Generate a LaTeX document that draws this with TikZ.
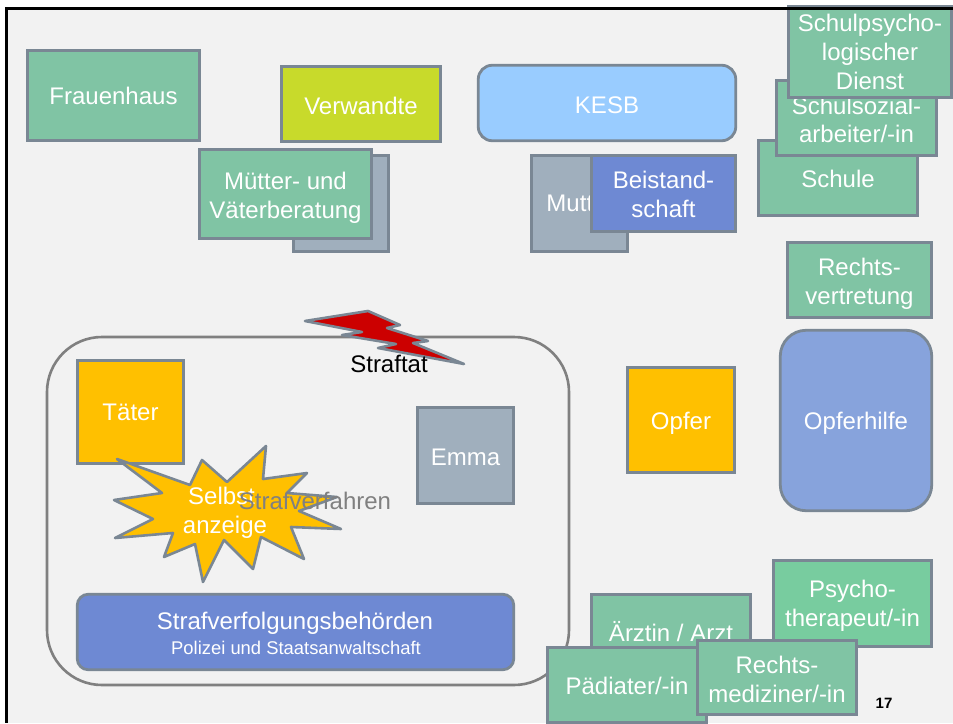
\documentclass[tikz,border=0pt]{standalone}
\usepackage{fontspec}
\setmainfont{Liberation Sans}
\definecolor{edgegray}{HTML}{7A8794}
\definecolor{teal1}{HTML}{80C4A4}
\definecolor{teal2}{HTML}{78CC9F}
\definecolor{slate1}{HTML}{A0AFBD}
\definecolor{amber1}{HTML}{FFC000}
\definecolor{blue1}{HTML}{6E89D3}
\definecolor{blue2}{HTML}{87A3DC}
\definecolor{sky1}{HTML}{99CCFF}
\definecolor{lime1}{HTML}{C8DA2B}
\definecolor{bg1}{HTML}{F2F2F2}
\definecolor{red1}{HTML}{CC0000}
\definecolor{gray1}{HTML}{808080}
\tikzset{
  x=1pt,y=-1pt,
  lbl/.style={font=\fontsize{24}{28.6}\selectfont,align=center,inner sep=0pt,outer sep=0pt},
  txt/.style={lbl,text=white,label distance=0pt},
  box/.style={draw=edgegray,line width=2.8pt,inner sep=0pt,outer sep=0pt,line join=miter},
  green/.style={box,fill=teal1},
  slate/.style={box,fill=slate1},
  amber/.style={box,fill=amber1},
  blue/.style={box,fill=blue1},
  spiky/.style={draw=edgegray,line width=2.6pt,line join=round},
}
\begin{document}
\begin{tikzpicture}
\useasboundingbox (0,0) rectangle (953,723);
\fill[white] (0,0) rectangle (953,723);
\fill[bg1] (6.5,8) rectangle (953,723);
% big frame
\draw[gray1,line width=2.6pt,rounded corners=55pt] (47,337) rectangle (569,685);
% top row
\node[green,minimum width=172.5,minimum height=90.5,label={[txt]center:Frauenhaus}] (frauen) at (113.5,95.5) {};
\node[box,fill=lime1,minimum width=159.5,minimum height=75.5,label={[txt,yshift=-2]center:Verwandte}] (verw) at (361,104) {};
\node[box,fill=sky1,rounded corners=14pt,minimum width=257.5,minimum height=75.5,label={[txt,yshift=-2]center:KESB}] (kesb) at (607,103) {};
\node[slate,minimum width=95.5,minimum height=96.5] (vater) at (341,203.5) {};
\node[green,minimum width=172.5,minimum height=89.5,label={[txt,yshift=-3.5]center:Mütter- und\\Väterberatung}] (muetter) at (285.5,194) {};
\node[slate,minimum width=96.5,minimum height=96.5,label={[txt,xshift=1]center:Mutter}] (mutter) at (579.5,203.5) {};
\node[blue,minimum width=144.5,minimum height=76.5,label={[txt,yshift=-1]center:Beistand-\\schaft}] (beistand) at (663.5,193.5) {};
\node[green,minimum width=159.5,minimum height=75.5,label={[txt,yshift=-1]center:Schule}] (schule) at (838,178) {};
\node[green,minimum width=160.5,minimum height=75.5,label={[txt,yshift=-2]center:Schulsozial-\\arbeiter/-in}] (sozial) at (856.5,118) {};
\node[green,minimum width=163.5,minimum height=91.5,label={[txt]center:Schulpsycho-\\logischer\\Dienst}] (psych) at (870,52) {};
\node[green,minimum width=144.5,minimum height=75.5,label={[txt,yshift=-4]center:Rechts-\\vertretung}] (recht) at (859.5,280) {};
% middle
\node[box,fill=blue2,rounded corners=26pt,minimum width=151.5,minimum height=180.5,label={[txt,yshift=-3]center:Opferhilfe}] (ohilfe) at (856,420.5) {};
\node[amber,minimum width=107.5,minimum height=105.5,label={[txt,yshift=-3]center:Opfer}] (opfer) at (681,420) {};
\node[amber,minimum width=106.5,minimum height=103.5,label={[txt]center:Täter}] (taeter) at (130.5,412) {};
\node[slate,minimum width=96.5,minimum height=96.5,label={[txt,yshift=-2]center:Emma}] (emma) at (465.5,455.5) {};
% burst
\draw[spiky,fill=amber1]
 (117,459)--(190,485)--(202,460)--(227,482)--(266,446)--(263,479)--(307,473)--(287,493)--(337,497)--(299,511)--(341,529)--(291,527)--(304,559)--(261,537)--(253,569)--(224,540)--(203,582)--(195,544)--(164,557)--(173,533)--(115,538)--(153,519)--(114,500)--(162,493)--cycle;
\node[lbl,text=white] (selbst) at (225,513) {Selbst\rule{7pt}{0pt}\\anzeige};
\node[lbl,text=gray1] (verfahren) at (315,501) {Strafverfahren};
% lightning
\draw[spiky,fill=red1]
 (305,321)--(368,311)--(400,325)--(387,328)--(428,341)--(413,343)--(464,364)--(378,348)--(396,344)--(342,335)--(362,332)--cycle;
\node[lbl,text=black] (straftat) at (389,364) {Straftat};
% Strafverfolgung
\node[blue,rounded corners=11pt,minimum width=436.5,minimum height=75.5] (behoerden) at (295.5,632) {};
\node[lbl,text=white] (behtitel) at (295,623) {Strafverfolgungsbehörden};
\node[lbl,text=white,font=\fontsize{18.4}{21}\selectfont] (behsub) at (296,648) {Polizei und Staatsanwaltschaft};
% bottom right
\node[box,fill=teal2,minimum width=158.5,minimum height=86.5,label={[txt,yshift=-2.5]center:Psycho-\\therapeut/-in}] (psycho) at (852.5,603.5) {};
\node[green,minimum width=159.5,minimum height=75.5,label={[txt]center:Ärztin / Arzt}] (arzt) at (671,632) {};
\node[green,minimum width=159.5,minimum height=75.5,label={[txt,yshift=-1]center:Pädiater/-in}] (paed) at (627,685) {};
\node[green,minimum width=159.5,minimum height=74.5,label={[txt,yshift=-2]center:Rechts-\\mediziner/-in}] (rmed) at (777,677.5) {};
\node[inner sep=0pt,font=\fontsize{15}{18}\selectfont\bfseries] (page) at (884,703) {17};
% slide frame
\fill[black] (5,7) rectangle (953,9.5);
\fill[black] (5,7) rectangle (8,723);
\end{tikzpicture}
\end{document}
